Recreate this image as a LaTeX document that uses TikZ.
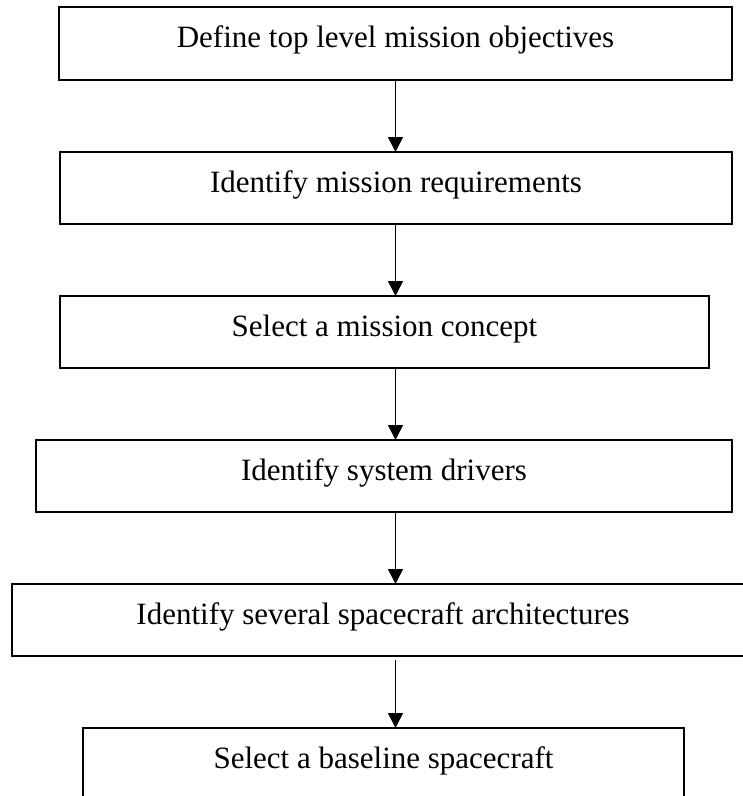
\documentclass[tikz,border=0pt]{standalone}
\usepackage{fontspec}
\setmainfont{Liberation Serif}
\usetikzlibrary{arrows.meta, positioning}

\begin{document}
\begin{tikzpicture}[
  stepbox/.style={draw, line width=2pt, rectangle, align=center,
    inner xsep=0pt, inner ysep=0pt, outer sep=0pt,
    text height=40pt, text depth=32pt, minimum height=72pt,
    font=\fontsize{31}{37}\selectfont},
  flow/.style={line width=1.5pt, -{Triangle[width=15pt, length=15pt]}},
  node distance=72pt
]
\useasboundingbox (0,0) rectangle (743pt,-796pt);

\node[stepbox, minimum width=673pt, text depth=33pt, minimum height=73pt,
  anchor=north] (objectives) at (395.5pt,-7pt)
  {Define top level mission objectives};

\node[stepbox, minimum width=672pt, below=of objectives, xshift=0.5pt] (requirements)
  {Identify mission requirements};

\node[stepbox, minimum width=649pt, below=of requirements, xshift=-11.5pt] (concept)
  {Select a mission concept};

\node[stepbox, minimum width=696pt, below=of concept, xshift=-0.5pt] (drivers)
  {Identify system drivers};

\node[stepbox, minimum width=742pt, below=of drivers, xshift=-1pt] (architectures)
  {Identify several spacecraft architectures};

\node[stepbox, minimum width=601pt, below=of architectures, xshift=0.5pt] (baseline)
  {Select a baseline spacecraft};

\draw[flow] (objectives.south) -- (requirements.north -| objectives.south);
\draw[flow] (requirements.south -| objectives.south) -- (concept.north -| objectives.south);
\draw[flow] (concept.south -| objectives.south) -- (drivers.north -| objectives.south);
\draw[flow] (drivers.south -| objectives.south) -- (architectures.north -| objectives.south);
\draw[flow, shorten <=4pt] (architectures.south -| objectives.south)
  -- (baseline.north -| objectives.south);
\end{tikzpicture}
\end{document}
